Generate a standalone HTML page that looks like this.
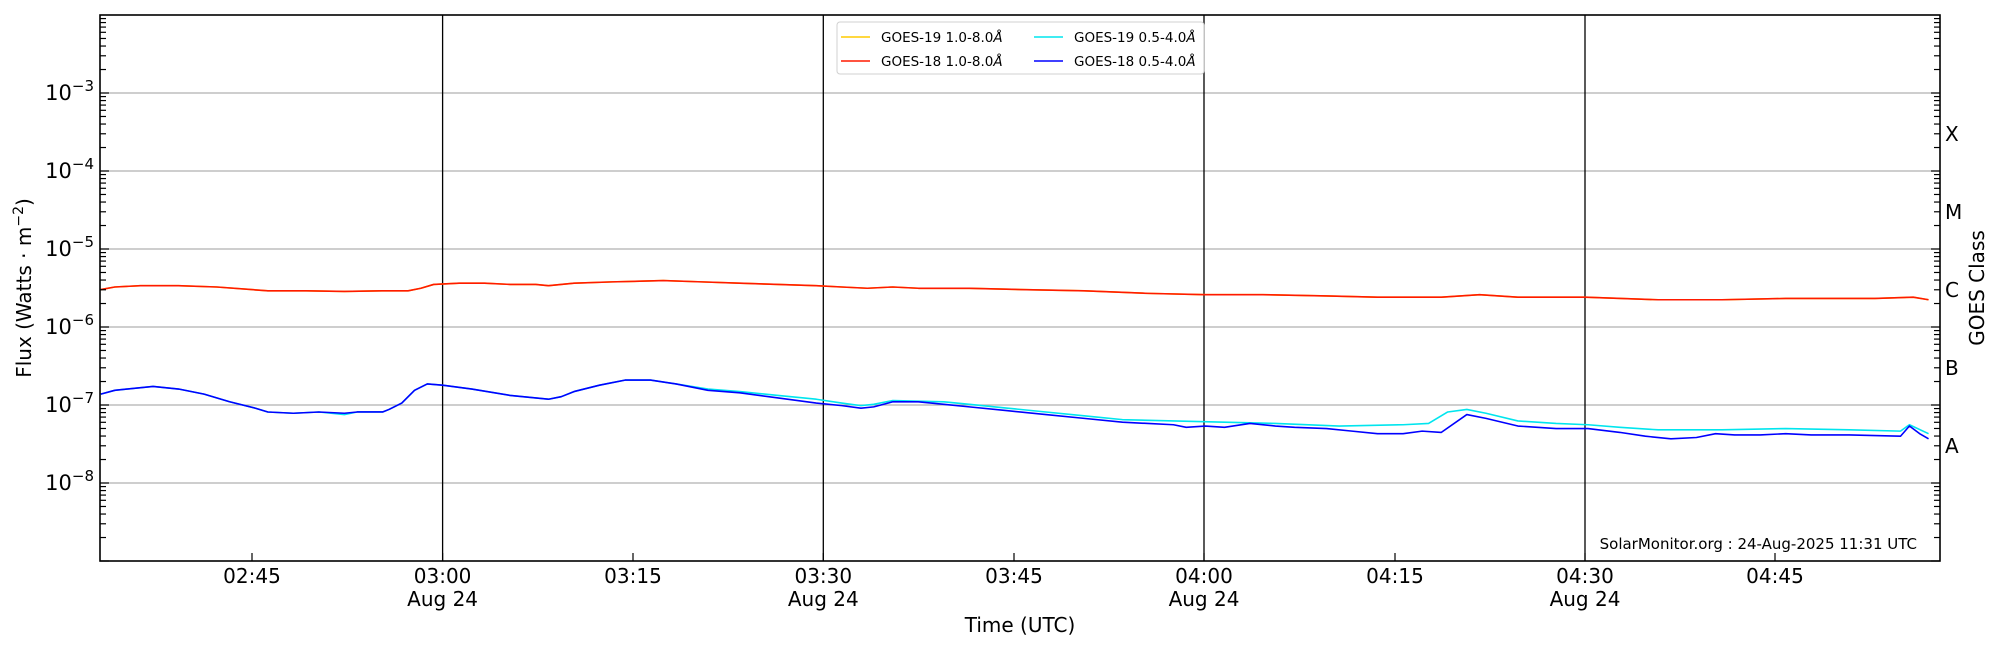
<!DOCTYPE html>
<html><head><meta charset="utf-8"><style>
html,body{margin:0;padding:0;background:#fff;}
svg{display:block;font-family:"DejaVu Sans","Liberation Sans",sans-serif;}
</style></head><body>
<svg id="s" width="2000" height="650" viewBox="0 0 2000 650" xmlns="http://www.w3.org/2000/svg">
<rect width="2000" height="650" fill="#fff"/>
<g id="grid" stroke="#b0b0b0" stroke-width="1.2"></g>
<g stroke="#000" stroke-width="1.3">
<line x1="442.6" y1="15" x2="442.6" y2="561"/>
<line x1="823.3" y1="15" x2="823.3" y2="561"/>
<line x1="1204" y1="15" x2="1204" y2="561"/>
<line x1="1585" y1="15" x2="1585" y2="561"/>
</g>
<g transform="scale(1.2755)" fill="none" stroke-width="1.6" stroke-linejoin="round">
<polyline vector-effect="non-scaling-stroke" stroke="#ffcc00" points="79,227 90,225 110,224 140,224 170,225 210,228 240,228 270,228.5 300,228 320,228 330,226 340,223 360,222 380,222 400,223 420,223 430,224 450,222 480,221 520,220 550,221 580,222 610,223 640,224 660,225 680,226 700,225 720,226 760,226 800,227 850,228 900,230 945,231 990,231 1040,232 1080,233 1130,233 1160,231 1190,233 1243,233 1300,235 1350,235 1400,234 1470,234 1500,233 1512,235"/>
<polyline vector-effect="non-scaling-stroke" stroke="#ff1a00" points="79,227 90,225 110,224 140,224 170,225 210,228 240,228 270,228.5 300,228 320,228 330,226 340,223 360,222 380,222 400,223 420,223 430,224 450,222 480,221 520,220 550,221 580,222 610,223 640,224 660,225 680,226 700,225 720,226 760,226 800,227 850,228 900,230 945,231 990,231 1040,232 1080,233 1130,233 1160,231 1190,233 1243,233 1300,235 1350,235 1400,234 1470,234 1500,233 1512,235"/>
<polyline vector-effect="non-scaling-stroke" stroke="#00e5ee" points="79,309 90,306 120,303 140,305 160,309 180,315 200,320 210,323 230,324 250,323 270,325 280,323 300,323 305,321 315,316 325,306 335,301 347,302 370,305 400,310 430,313 440,311 450,307 470,302 490,298 510,298 530,301 555,305 580,307 610,310 640,313 660,316 675,318 685,317 700,314 740,315 760,317 790,320 820,323 850,326 880,329 920,330 960,331 1000,332 1050,334 1100,333 1120,332 1135,323 1150,321 1165,324 1190,330 1220,332 1245,333 1270,335 1300,337 1350,337 1400,336 1450,337 1490,338 1497,333 1512,340"/>
<polyline vector-effect="non-scaling-stroke" stroke="#0000ff" points="79,309 90,306 120,303 140,305 160,309 180,315 200,320 210,323 230,324 250,323 270,324 280,323 300,323 305,321 315,316 325,306 335,301 347,302 370,305 400,310 430,313 440,311 450,307 470,302 490,298 510,298 530,301 555,306 580,308 610,312 640,316 660,318 675,320 685,319 700,315 720,315 740,317 760,319 790,322 820,325 850,328 880,331 900,332 920,333 930,335 945,334 960,335 980,332 1000,334 1015,335 1040,336 1060,338 1080,340 1100,340 1115,338 1130,339 1150,325 1165,328 1190,334 1220,336 1245,336 1270,339 1290,342 1310,344 1330,343 1345,340 1360,341 1380,341 1400,340 1420,341 1450,341 1490,342 1497,334 1505,340 1512,344"/>
</g>
<g id="ticks" stroke="#000" stroke-width="1.2"></g>
<rect x="100" y="15" width="1840" height="546" fill="none" stroke="#000" stroke-width="1.6"/>
<!-- legend -->
<rect x="837" y="22" width="367" height="52" rx="3" fill="#fff" fill-opacity="0.85" stroke="#d0d0d0" stroke-width="1"/>
<g stroke-width="1.5">
<line x1="841" y1="37" x2="870" y2="37" stroke="#ffcc00"/>
<line x1="841" y1="61" x2="870" y2="61" stroke="#ff1a00"/>
<line x1="1034" y1="37" x2="1063" y2="37" stroke="#00e5ee"/>
<line x1="1034" y1="61" x2="1063" y2="61" stroke="#0000ff"/>
</g>
<g font-size="13.5" fill="#000">
<text x="881" y="42">GOES-19 1.0-8.0<tspan font-style="italic">Å</tspan></text>
<text x="881" y="66">GOES-18 1.0-8.0<tspan font-style="italic">Å</tspan></text>
<text x="1074" y="42">GOES-19 0.5-4.0<tspan font-style="italic">Å</tspan></text>
<text x="1074" y="66">GOES-18 0.5-4.0<tspan font-style="italic">Å</tspan></text>
</g>
<!-- y tick labels -->
<g font-size="21" fill="#000" text-anchor="end">
<text x="94" y="100">10<tspan dy="-9" font-size="15">−3</tspan></text>
<text x="94" y="178">10<tspan dy="-9" font-size="15">−4</tspan></text>
<text x="94" y="256">10<tspan dy="-9" font-size="15">−5</tspan></text>
<text x="94" y="334">10<tspan dy="-9" font-size="15">−6</tspan></text>
<text x="94" y="412">10<tspan dy="-9" font-size="15">−7</tspan></text>
<text x="94" y="490">10<tspan dy="-9" font-size="15">−8</tspan></text>
</g>
<g font-size="20" fill="#000">
<text x="1945" y="141">X</text>
<text x="1945" y="219">M</text>
<text x="1945" y="297">C</text>
<text x="1945" y="375">B</text>
<text x="1945" y="453">A</text>
</g>
<text transform="translate(31,288) rotate(-90)" font-size="20" text-anchor="middle">Flux (Watts · m<tspan dy="-8" font-size="14">−2</tspan><tspan dy="8">)</tspan></text>
<text transform="translate(1984,288) rotate(-90)" font-size="20" text-anchor="middle">GOES Class</text>
<!-- x tick labels -->
<g font-size="20" fill="#000" text-anchor="middle">
<text x="252" y="583">02:45</text>
<text x="442.6" y="583">03:00</text><text x="442.6" y="606">Aug 24</text>
<text x="633" y="583">03:15</text>
<text x="823.3" y="583">03:30</text><text x="823.3" y="606">Aug 24</text>
<text x="1014" y="583">03:45</text>
<text x="1204" y="583">04:00</text><text x="1204" y="606">Aug 24</text>
<text x="1395" y="583">04:15</text>
<text x="1585" y="583">04:30</text><text x="1585" y="606">Aug 24</text>
<text x="1775" y="583">04:45</text>
<text x="1020" y="632">Time (UTC)</text>
</g>
<text x="1917" y="549" font-size="15" text-anchor="end">SolarMonitor.org : 24-Aug-2025 11:31 UTC</text>
<script>
(function(){
var ns="http://www.w3.org/2000/svg";
var g=document.getElementById('grid'),t=document.getElementById('ticks');
function ln(p,a,b,c,d){var l=document.createElementNS(ns,'line');l.setAttribute('x1',a);l.setAttribute('y1',b);l.setAttribute('x2',c);l.setAttribute('y2',d);p.appendChild(l);}
function y(lg){return 15+(-2-lg)*78;}
for(var e=-3;e>=-8;e--){ln(g,100,y(e),1940,y(e));}
for(var e=-9;e<-2;e++){for(var m=1;m<10;m++){var yy=y(e+Math.log10(m));if(yy<15||yy>561)continue;var L=m==1?9:6;ln(t,100,yy,100+L,yy);ln(t,1940,yy,1940-L,yy);}}
var xs=[252,442.6,633,823.3,1014,1204,1395,1585,1775];
xs.forEach(function(x){ln(t,x,561,x,553);});
})();
</script>
</svg>
</body></html>
